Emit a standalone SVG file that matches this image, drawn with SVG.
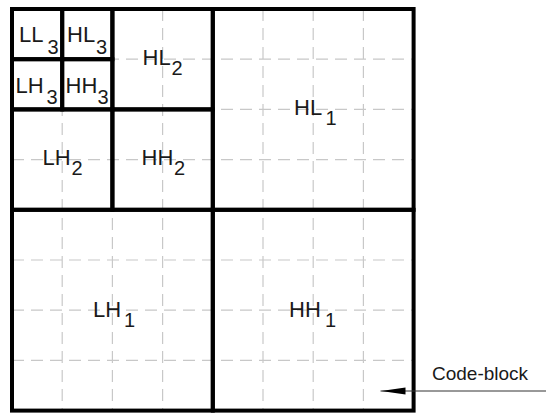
<svg xmlns="http://www.w3.org/2000/svg" width="546" height="414" viewBox="0 0 546 414">
<style>
.grid{stroke:#c8c8c8;stroke-width:1.2;stroke-dasharray:12 7;fill:none}
.band{fill:none;stroke:#000;stroke-width:4}
.lbl{font-family:"Liberation Sans",Arial,sans-serif;font-size:22px;fill:#1a1a1a}
.sub{font-family:"Liberation Sans",Arial,sans-serif;font-size:20px;fill:#1a1a1a}
.note{font-family:"Liberation Sans",Arial,sans-serif;font-size:19px;fill:#1a1a1a}
</style>
<defs>
<marker id="ah" markerUnits="userSpaceOnUse" markerWidth="25" markerHeight="8" refX="25" refY="4" orient="auto">
<path d="M0,0.5 L25,4 L0,7.5 Z" fill="#000"/>
</marker>
</defs>
<rect width="546" height="414" fill="#fff"/>
<g id="grid">
<path class="grid" d="M62.2,9V410.6M112.4,9V410.6M162.6,9V410.6M212.8,9V410.6M263,9V410.6M313.2,9V410.6M363.4,9V410.6M12,59.2H413.6M12,109.4H413.6M12,159.6H413.6M12,209.8H413.6M12,260H413.6M12,310.2H413.6M12,360.4H413.6"/>
</g>
<g id="HH1"><rect class="band" x="212.8" y="209.8" width="200.8" height="200.8"/><text class="lbl" x="289" y="317">HH</text><text class="sub" x="325" y="327">1</text></g>
<g id="LH1"><rect class="band" x="12" y="209.8" width="200.8" height="200.8"/><text class="lbl" x="93" y="317">LH</text><text class="sub" x="124" y="327">1</text></g>
<g id="HL1"><rect class="band" x="212.8" y="9" width="200.8" height="200.8"/><text class="lbl" x="294" y="115">HL</text><text class="sub" x="325.5" y="124.5">1</text></g>
<g id="HH2"><rect class="band" x="112.4" y="109.4" width="100.4" height="100.4"/><text class="lbl" x="141.5" y="165">HH</text><text class="sub" x="174" y="175">2</text></g>
<g id="LH2"><rect class="band" x="12" y="109.4" width="100.4" height="100.4"/><text class="lbl" x="42.5" y="165">LH</text><text class="sub" x="71.5" y="175">2</text></g>
<g id="HL2"><rect class="band" x="112.4" y="9" width="100.4" height="100.4"/><text class="lbl" x="142.5" y="65">HL</text><text class="sub" x="171.5" y="75">2</text></g>
<g id="LL3"><rect class="band" x="12" y="9" width="50.2" height="50.2"/><text class="lbl" x="19" y="41.5">LL</text><text class="sub" x="47.5" y="53.5">3</text></g>
<g id="HL3"><rect class="band" x="62.2" y="9" width="50.2" height="50.2"/><text class="lbl" x="67" y="41.5">HL</text><text class="sub" x="96" y="53.5">3</text></g>
<g id="LH3"><rect class="band" x="12" y="59.2" width="50.2" height="50.2"/><text class="lbl" x="15.5" y="93">LH</text><text class="sub" x="46.5" y="103.5">3</text></g>
<g id="HH3"><rect class="band" x="62.2" y="59.2" width="50.2" height="50.2"/><text class="lbl" x="65.5" y="93">HH</text><text class="sub" x="97.5" y="103.5">3</text></g>
<g id="codeblock-label"><text class="note" x="432" y="380">Code-block</text></g>
<g id="connectors">
<line x1="546" y1="391" x2="380.5" y2="391" stroke="#333" stroke-width="1" marker-end="url(#ah)"/>
</g>
</svg>
